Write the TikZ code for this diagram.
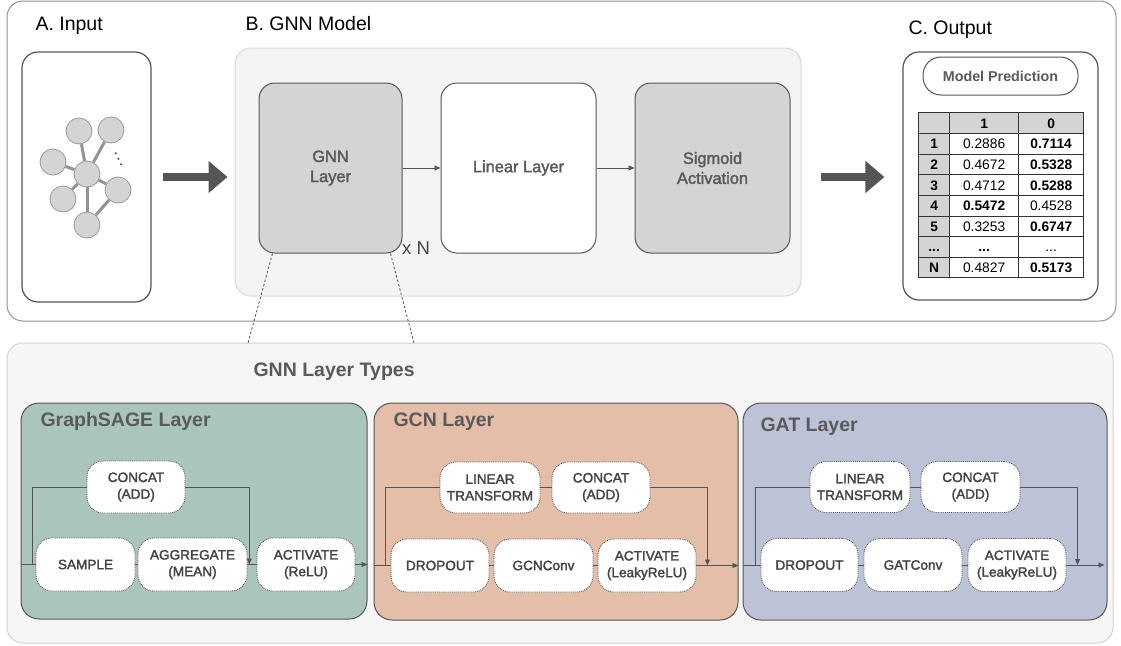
\documentclass[tikz,border=0pt]{standalone}
\usepackage{fontspec}
\setmainfont{Liberation Sans}
\newfontfamily\mediumfont{Liberation Sans}[FakeBold=2]
\usetikzlibrary{arrows.meta,matrix,calc}

\definecolor{linegray}{HTML}{555555}
\definecolor{boxgray}{HTML}{D4D4D4}
\definecolor{panelgray}{HTML}{F4F4F4}
\definecolor{typesgray}{HTML}{F6F6F6}
\definecolor{textgray}{HTML}{5A5A5A}
\definecolor{optext}{HTML}{444444}
\definecolor{sagegreen}{HTML}{AAC6BB}
\definecolor{gcnpeach}{HTML}{E5BEA9}
\definecolor{gatblue}{HTML}{BDC3D7}

\newcommand{\headfont}{\fontsize{19.5pt}{23pt}\selectfont}
\newcommand{\boxfont}{\mediumfont\fontsize{16.4pt}{20pt}\selectfont}
\newcommand{\opfont}{\mediumfont\fontsize{13.6pt}{16.7pt}\selectfont}
\newcommand{\tablefont}{\fontsize{13.8pt}{16pt}\selectfont}

\begin{document}
\begin{tikzpicture}[x=1pt, y=-1pt,
		layerbox/.style={draw=linegray, line width=1pt, rounded corners=16pt, minimum height=170pt, font=\boxfont, text=textgray, align=center},
		opbox/.style={draw=linegray, densely dotted, line width=0.9pt, fill=white, rounded corners=16pt, minimum width=98pt, minimum height=52pt, inner sep=2pt, font=\opfont, text=optext, align=center},
		flow/.style={draw=linegray, line width=0.9pt},
		flowtip/.style={-{Triangle[length=6pt,width=5pt]}},
		bigarrow/.style={draw=linegray, line width=8pt, -{Triangle[length=19pt,width=31pt]}},
		zoomline/.style={draw=linegray, line width=0.8pt, dash pattern=on 2.5pt off 2pt},
		vertex/.style={circle, draw=gray!80, fill=boxgray, minimum size=26pt, inner sep=0pt, line width=0.8pt},
		link/.style={draw=gray!85, line width=3pt},
		layertitle/.style={anchor=west, font=\headfont\bfseries, text=textgray},
	]
		\useasboundingbox (0,0) rectangle (1121,645);
		% upper frame
		\draw [draw=gray!85, line width=1pt, rounded corners=16pt, fill=white] (7,1) rectangle (1116,321);

		% A. input graph
		\node [anchor=base west, font=\headfont] (inputlabel) at (32,30) {A. Input};
		\node [draw=linegray, line width=1.2pt, rounded corners=16pt, minimum width=129pt, minimum height=250pt] (inbox) at (86.5,177) {};
		\node [vertex] (v1) at (79,131) {};
		\node [vertex] (v2) at (111,130) {};
		\node [vertex] (v3) at (53,162) {};
		\node [vertex] (v0) at (87,174) {};
		\node [vertex] (v4) at (63,199) {};
		\node [vertex] (v5) at (118,190) {};
		\node [vertex] (v6) at (87,225) {};
		\foreach \u/\v in {v0/v1, v0/v2, v0/v3, v0/v4, v0/v5, v0/v6, v5/v6}
			\draw [link] (\u) -- (\v);
		\foreach \t in {0,1,2}
			\fill [linegray] ({115.7+2.7*\t},{153.3+5.5*\t}) circle (1.2pt);

		% B. model
		\node [anchor=base west, font=\headfont] (modellabel) at (242,30) {B. GNN Model};
		\node [draw=gray!30, fill=panelgray, line width=1pt, rounded corners=16pt, minimum width=566pt, minimum height=248pt] (modelpanel) at (518,172) {};
		\node [layerbox, fill=boxgray, minimum width=143pt] (gnn) at (330.5,168) {GNN\\Layer};
		\node [layerbox, fill=white, minimum width=155pt] (linear) at (518.5,168) {Linear Layer};
		\node [layerbox, fill=boxgray, minimum width=155pt] (sigmoid) at (712.5,168) {Sigmoid\\Activation};
		\draw [flow, flowtip] (gnn) -- (linear);
		\draw [flow, flowtip] (linear) -- (sigmoid);
		\node [font=\fontsize{18.5pt}{20pt}\selectfont, text=optext] (repeat) at (416,248) {x N};

		% C. output table
		\node [anchor=base west, font=\headfont] (outputlabel) at (905,34) {C. Output};
		\node [draw=linegray, line width=1.2pt, rounded corners=16pt, minimum width=195pt, minimum height=248pt] (outbox) at (1000.5,176) {};
		\node [draw=linegray, line width=1pt, rounded corners=18pt, minimum width=155pt, minimum height=38pt, font=\fontsize{14.3pt}{16pt}\selectfont\bfseries, text=textgray] (prediction) at (1000.5,76) {Model Prediction};
		\matrix (predtable) [matrix of nodes, nodes in empty cells, anchor=north west, inner sep=0pt, row sep=-0.9pt, column sep=-0.9pt,
			nodes={draw=black!80, line width=0.9pt, fill=white, minimum height=20.6pt, inner sep=1pt, font=\tablefont, text height=9.9pt, text depth=0pt},
			column 1/.style={nodes={fill=boxgray, minimum width=31pt, font=\tablefont\bfseries}},
			column 2/.style={nodes={minimum width=69pt}},
			column 3/.style={nodes={minimum width=65pt}},
			row 1/.style={nodes={fill=boxgray, minimum height=21pt, font=\tablefont\bfseries}}]
			at (918,112) {
				& 1 & 0 \\
				1 & 0.2886 & \textbf{0.7114} \\
				2 & 0.4672 & \textbf{0.5328} \\
				3 & 0.4712 & \textbf{0.5288} \\
				4 & \textbf{0.5472} & 0.4528 \\
				5 & 0.3253 & \textbf{0.6747} \\
				... & \textbf{...} & ... \\
				N & 0.4827 & \textbf{0.5173} \\
			};

		\draw [bigarrow] ([xshift=11pt]inbox.east) -- ([xshift=-7pt]inbox.east -| modelpanel.west);
		\draw [bigarrow] ([xshift=19pt]inbox.east -| modelpanel.east) -- ([xshift=-18pt]inbox.east -| outbox.west);

		% lower panel with the layer types
		\node [draw=gray!35, fill=typesgray, line width=1pt, rounded corners=16pt, minimum width=1106pt, minimum height=300pt] (typespanel) at (560,493) {};
		\coordinate (zoomleft) at (248,343);
		\coordinate (zoomright) at (414,343);
		\draw [zoomline] ([xshift=14pt]gnn.south west) -- (zoomleft);
		\draw [zoomline] ([xshift=-12pt]gnn.south east) -- (zoomright);
		\node [layertitle] (typeslabel) at (250,372) {GNN Layer Types};

		\node [draw=linegray, fill=sagegreen, line width=1pt, rounded corners=18pt, minimum width=346pt, minimum height=216pt] (sage) at (194,511) {};
		\node [draw=linegray, fill=gcnpeach, line width=1pt, rounded corners=18pt, minimum width=364pt, minimum height=217pt] (gcn) at (556,511.5) {};
		\node [draw=linegray, fill=gatblue, line width=1pt, rounded corners=18pt, minimum width=364pt, minimum height=217pt] (gat) at (925,511.5) {};
		\node [layertitle] (sagetitle) at (37,421) {GraphSAGE Layer};
		\node [layertitle] (gcntitle) at (390,422) {GCN Layer};
		\node [layertitle] (gattitle) at (757,427) {GAT Layer};

		% GraphSAGE
		\node [opbox] (sagecat) at (136,487) {CONCAT\\(ADD)};
		\node [opbox, minimum width=99pt, minimum height=53pt] (sagesample) at (85.5,564.5) {SAMPLE};
		\node [opbox, minimum width=109pt, minimum height=53pt] (sageagg) at (192.5,564.5) {AGGREGATE\\(MEAN)};
		\node [opbox, minimum height=53pt] (sageact) at (306,564.5) {ACTIVATE\\(ReLU)};
		\coordinate (sagejoin) at ($(sageagg.east)!0.2!(sageact.west)$);
		\draw [flow] (sage.west |- sagesample.west) -- (sagesample.west);
		\draw [flow] (sagesample.east) -- (sageagg.west);
		\draw [flow] (sageagg.east) -- (sageact.west);
		\draw [flow, flowtip] (sageact.east) -- (sage.east |- sageact.east);
		\draw [flow] ([xshift=12pt]sage.west |- sagesample.west) |- (sagecat.west);
		\draw [flow, flowtip] (sagecat.east) -| (sagejoin);

		% GCN
		\node [opbox, minimum width=100pt, minimum height=51pt] (gcnlin) at (490,487.5) {LINEAR\\TRANSFORM};
		\node [opbox, minimum height=51pt] (gcncat) at (601,487.5) {CONCAT\\(ADD)};
		\node [opbox, minimum height=53pt] (gcndrop) at (440,565.5) {DROPOUT};
		\node [opbox, minimum width=99pt, minimum height=53pt] (gcnconv) at (543.5,565.5) {GCNConv};
		\node [opbox, minimum height=53pt] (gcnact) at (647,565.5) {ACTIVATE\\(LeakyReLU)};
		\coordinate (gcnjoin) at ($(gcnact.east)!0.26!(gcnact.east -| gcn.east)$);
		\draw [flow] (gcn.west |- gcndrop.west) -- (gcndrop.west);
		\draw [flow] (gcndrop.east) -- (gcnconv.west);
		\draw [flow] (gcnconv.east) -- (gcnact.west);
		\draw [flow, flowtip] (gcnact.east) -- (gcn.east |- gcnact.east);
		\draw [flow] ([xshift=12pt]gcn.west |- gcndrop.west) |- (gcnlin.west);
		\draw [flow] (gcnlin.east) -- (gcncat.west);
		\draw [flow, flowtip] (gcncat.east) -| (gcnjoin);

		% GAT
		\node [opbox, minimum width=100pt, minimum height=51pt] (gatlin) at (860,487) {LINEAR\\TRANSFORM};
		\node [opbox, minimum width=99pt, minimum height=51pt] (gatcat) at (970.5,487) {CONCAT\\(ADD)};
		\node [opbox, minimum width=97pt, minimum height=53pt] (gatdrop) at (809.5,565) {DROPOUT};
		\node [opbox, minimum height=53pt] (gatconv) at (913,565) {GATConv};
		\node [opbox, minimum height=53pt] (gatact) at (1017,565) {ACTIVATE\\(LeakyReLU)};
		\coordinate (gatjoin) at ($(gatact.east)!0.27!(gatact.east -| gat.east)$);
		\draw [flow] (gat.west |- gatdrop.west) -- (gatdrop.west);
		\draw [flow] (gatdrop.east) -- (gatconv.west);
		\draw [flow] (gatconv.east) -- (gatact.west);
		\draw [flow, flowtip] (gatact.east) -- ([xshift=-3pt]gat.east |- gatact.east);
		\draw [flow] ([xshift=13pt]gat.west |- gatdrop.west) |- (gatlin.west);
		\draw [flow] (gatlin.east) -- (gatcat.west);
		\draw [flow, flowtip] (gatcat.east) -| (gatjoin);
	\end{tikzpicture}
\end{document}
